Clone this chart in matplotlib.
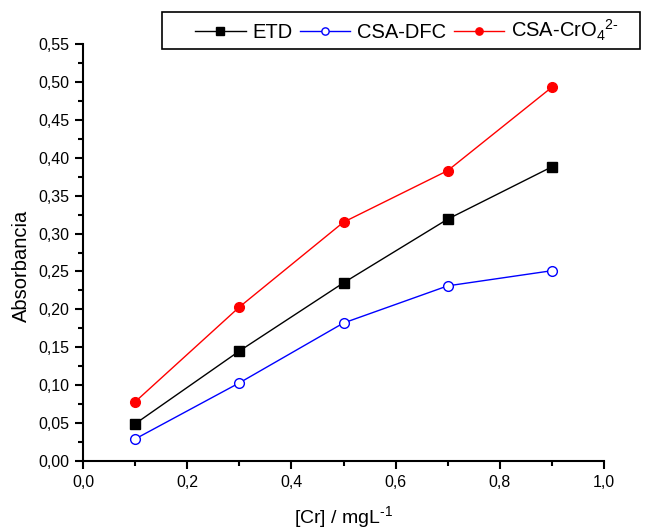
import matplotlib
matplotlib.use("Agg")
import matplotlib.pyplot as plt
from matplotlib.patches import Rectangle
from matplotlib.ticker import MultipleLocator, FuncFormatter

plt.rcParams['font.family'] = ['Liberation Sans', 'DejaVu Sans']
plt.rcParams['mathtext.fontset'] = 'custom'
plt.rcParams['mathtext.rm'] = 'Liberation Sans'
plt.rcParams['mathtext.it'] = 'Liberation Sans'

concentration = [0.1, 0.3, 0.5, 0.7, 0.9]
etd = [0.049, 0.145, 0.235, 0.319, 0.388]
csa_dfc = [0.029, 0.103, 0.182, 0.231, 0.251]
csa_cro4 = [0.078, 0.203, 0.315, 0.383, 0.493]

W, H = 645, 529
fig = plt.figure(figsize=(W / 100, H / 100), dpi=100)
ax = fig.add_axes([83 / W, 1 - 461 / H, (604 - 83) / W, (461 - 44) / H])

ax.plot(concentration, etd, color='black', lw=1, marker='s', ms=7,
        mfc='black', mec='black', label='ETD')
ax.plot(concentration, csa_dfc, color='#0000ff', lw=1, marker='o', ms=7,
        mfc='white', mec='#0000ff', label='CSA-DFC')
ax.plot(concentration, csa_cro4, color='#ff0000', lw=1, marker='o', ms=7,
        mfc='#ff0000', mec='#ff0000', label=r'CSA-CrO$_4{}^{\text{2-}}$')

ax.set_xlim(0, 1.0)
ax.set_ylim(0, 0.55)
ax.xaxis.set_major_locator(MultipleLocator(0.2))
ax.xaxis.set_minor_locator(MultipleLocator(0.1))
ax.yaxis.set_major_locator(MultipleLocator(0.05))
ax.yaxis.set_minor_locator(MultipleLocator(0.025))
ax.xaxis.set_major_formatter(FuncFormatter(lambda v, p: f"{v:.1f}".replace('.', ',')))
ax.yaxis.set_major_formatter(FuncFormatter(lambda v, p: f"{v:.2f}".replace('.', ',')))

for s in ['top', 'right']:
    ax.spines[s].set_visible(False)
for s in ['left', 'bottom']:
    ax.spines[s].set_linewidth(1.5)
ax.tick_params(which='major', direction='out', length=6, width=1.5, labelsize=11.5,
               colors='black', pad=4)
ax.tick_params(which='minor', direction='out', length=3.5, width=1.5)

ax.set_xlabel(r'[Cr] / mgL$^{\text{-1}}$', fontsize=14, labelpad=10)
ax.set_ylabel('Absorbancia', fontsize=14.5, labelpad=5)
ax.yaxis.label.set_y(0.468)

# legend box drawn separately to allow a wider left margin
fig.add_artist(Rectangle((162 / W, 1 - 49 / H), (640 - 162) / W, 37 / H,
                         transform=fig.transFigure, fill=False,
                         edgecolor='black', lw=1.2))
leg = fig.legend(loc='center', bbox_to_anchor=(407 / W, 1 - 30.5 / H), ncol=3,
                 fontsize=14.5, frameon=False, markerscale=0.75,
                 handlelength=2.5, columnspacing=0.35, handletextpad=0.35,
                 borderpad=0, borderaxespad=0)

fig.savefig('out.png', dpi=100)
